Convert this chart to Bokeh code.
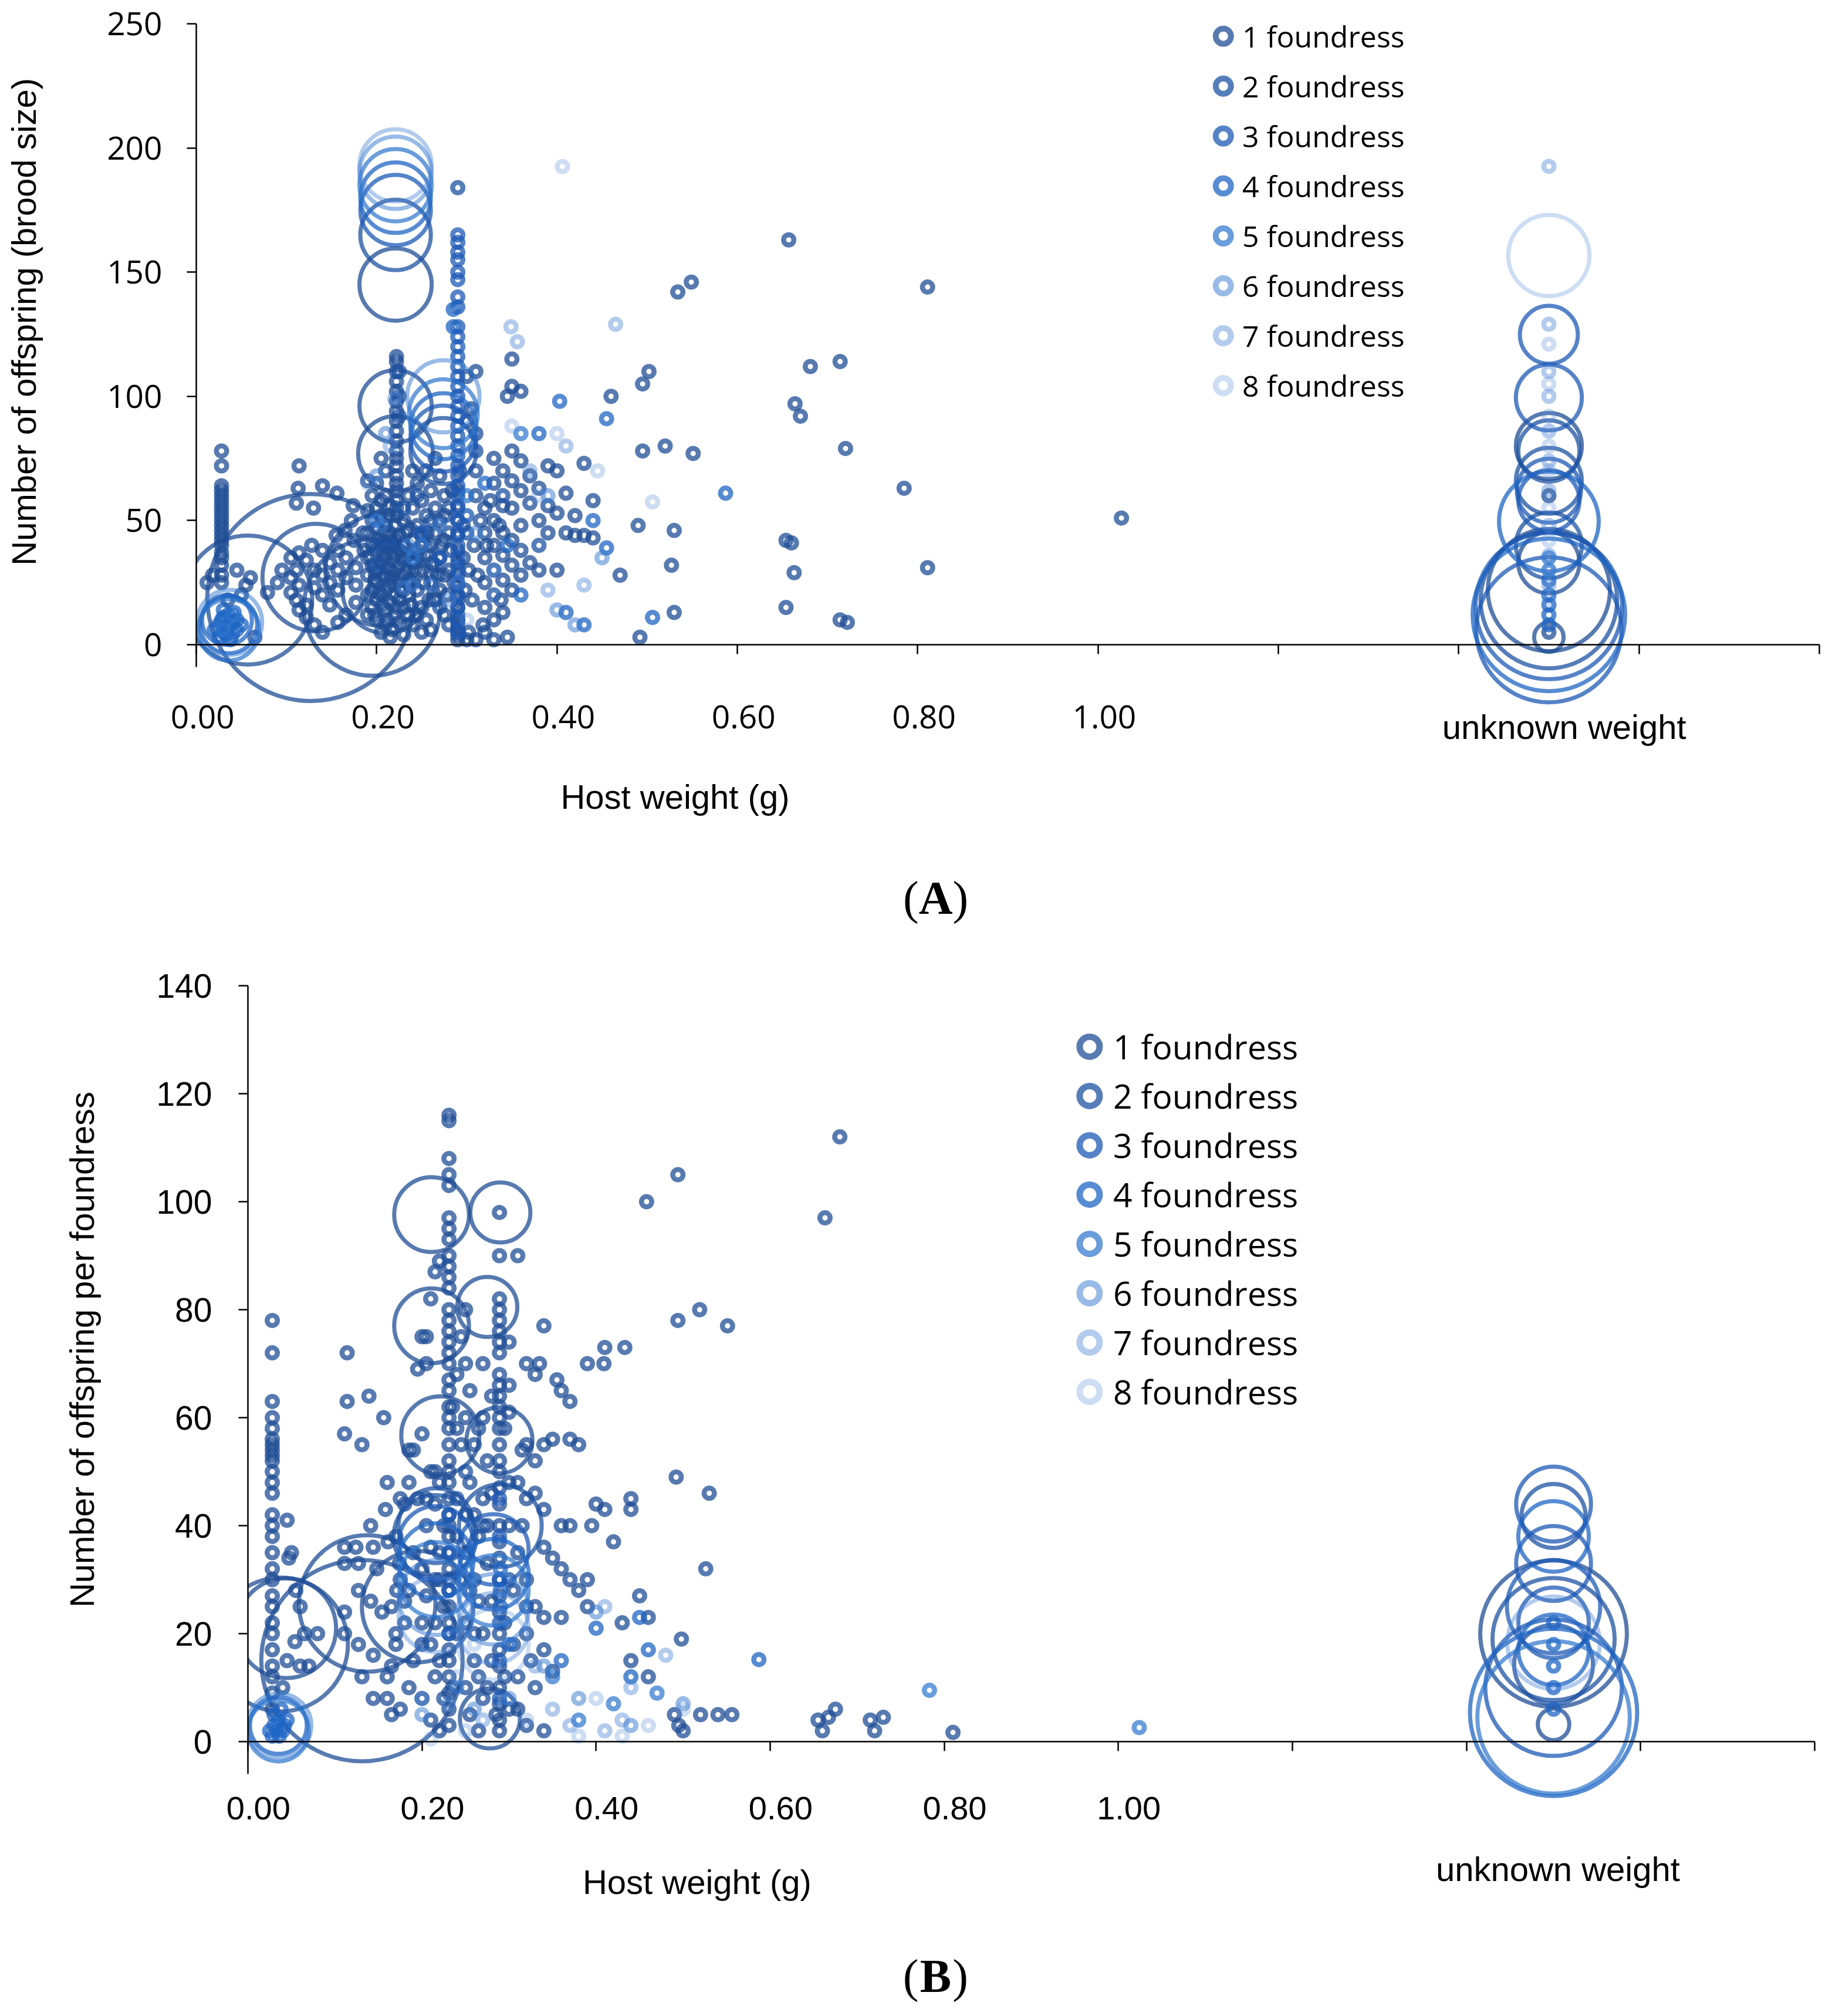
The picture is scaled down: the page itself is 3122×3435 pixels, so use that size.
import math
from bokeh.plotting import figure
from bokeh.models import ColumnDataSource, FixedTicker, Label, CustomJSTickFormatter
from bokeh.layouts import column
from bokeh.embed import file_html
from bokeh.resources import INLINE
from bokeh.core.properties import value

# ---------------- shared categories / ticks ----------------
SERIES = ["1 foundress", "2 foundress", "3 foundress", "4 foundress",
          "5 foundress", "6 foundress", "7 foundress", "8 foundress"]
COLORS = ["#1f4e96", "#1c51a1", "#1e5ab5", "#1f65c4", "#2b73cc", "#3a7bd0", "#4a84d4", "#5b8fd8"]
ALPHAS = [0.75, 0.75, 0.75, 0.75, 0.70, 0.52, 0.42, 0.30]

X_TICKS = [0.0, 0.2, 0.4, 0.6, 0.8, 1.0, 1.2, 1.4, 1.6, 1.8]
X_TICK_LABELS = ["0.00", "0.20", "0.40", "0.60", "0.80", "1.00"]
UNKNOWN_X = 1.5
UNKNOWN_LABEL = "unknown weight"
X_TITLE = "Host weight (g)"

A_Y_TICKS = [0, 50, 100, 150, 200, 250]
A_Y_TITLE = "Number of offspring (brood size)"
B_Y_TICKS = [0, 20, 40, 60, 80, 100, 120, 140]
B_Y_TITLE = "Number of offspring per foundress"

# ---------------- Panel A data: (host weight, brood size) ----------------
A1 = [
    (0.028, 78), (0.028, 72), (0.028, 64), (0.028, 62), (0.028, 60), (0.028, 58), (0.028, 56), (0.028, 54),
    (0.028, 52), (0.028, 50), (0.028, 48), (0.028, 46), (0.028, 44), (0.028, 42), (0.028, 40), (0.028, 37),
    (0.028, 35), (0.028, 32), (0.028, 28), (0.028, 25), (0.012, 25), (0.018, 28), (0.045, 30), (0.055, 24),
    (0.060, 27), (0.035, 18), (0.079, 21), (0.065, 3), (0.050, 20),
    (0.114, 72), (0.113, 63), (0.140, 64), (0.111, 57), (0.130, 55), (0.156, 61), (0.174, 56), (0.105, 35),
    (0.114, 37), (0.122, 34), (0.111, 30), (0.105, 27), (0.114, 24), (0.105, 21), (0.111, 18), (0.114, 14),
    (0.122, 11), (0.131, 30), (0.131, 23), (0.140, 28), (0.140, 20), (0.148, 33), (0.148, 25), (0.148, 16),
    (0.157, 38), (0.157, 30), (0.157, 22), (0.157, 9), (0.166, 35), (0.166, 27), (0.166, 12), (0.177, 31),
    (0.177, 24), (0.177, 17), (0.131, 8), (0.140, 5), (0.122, 16), (0.175, 42), (0.185, 45), (0.172, 50),
    (0.190, 54), (0.186, 38), (0.190, 20), (0.190, 12), (0.095, 30), (0.090, 25), (0.128, 40), (0.140, 38),
    (0.165, 46), (0.155, 44),
    (0.222, 116), (0.222, 114), (0.222, 110), (0.222, 106), (0.222, 102), (0.222, 98), (0.222, 94),
    (0.222, 90), (0.222, 86), (0.222, 82), (0.222, 78), (0.222, 75), (0.222, 72), (0.222, 68), (0.222, 65),
    (0.222, 62), (0.222, 58), (0.222, 55), (0.222, 52),
    (0.205, 75), (0.210, 70), (0.200, 65), (0.195, 60), (0.205, 58), (0.190, 66),
    (0.190, 45), (0.190, 35), (0.190, 28), (0.195, 50), (0.195, 40), (0.195, 22), (0.195, 15), (0.200, 55),
    (0.200, 47), (0.200, 38), (0.200, 30), (0.200, 25), (0.200, 18), (0.200, 10), (0.205, 52), (0.205, 42),
    (0.205, 33), (0.205, 27), (0.205, 20), (0.205, 5), (0.210, 60), (0.210, 48), (0.210, 40), (0.210, 35),
    (0.210, 28), (0.210, 22), (0.210, 14), (0.210, 8), (0.215, 56), (0.215, 45), (0.215, 37), (0.215, 30),
    (0.215, 24), (0.215, 17), (0.215, 3), (0.220, 48), (0.220, 42), (0.220, 36), (0.220, 30), (0.220, 25),
    (0.220, 20), (0.220, 12), (0.225, 44), (0.225, 38), (0.225, 32), (0.225, 26), (0.225, 18), (0.225, 9),
    (0.230, 50), (0.230, 40), (0.230, 34), (0.230, 28), (0.230, 22), (0.230, 15), (0.230, 4), (0.235, 60),
    (0.235, 46), (0.235, 36), (0.235, 30), (0.235, 20), (0.235, 12), (0.240, 70), (0.240, 55), (0.240, 42),
    (0.240, 33), (0.240, 25), (0.240, 8), (0.245, 65), (0.245, 48), (0.245, 38), (0.245, 22), (0.250, 58),
    (0.250, 44), (0.250, 30), (0.250, 15), (0.250, 5), (0.255, 70), (0.255, 52), (0.255, 36), (0.255, 10),
    (0.260, 62), (0.260, 40), (0.260, 25), (0.260, 6), (0.265, 75), (0.265, 55), (0.265, 45), (0.265, 32),
    (0.265, 18), (0.270, 68), (0.270, 50), (0.270, 35), (0.270, 22), (0.275, 60), (0.275, 42), (0.275, 28),
    (0.275, 12), (0.280, 55), (0.280, 45), (0.280, 30), (0.280, 8),
    (0.195, 32), (0.198, 26), (0.202, 43), (0.207, 36), (0.212, 31), (0.217, 27), (0.218, 40), (0.213, 52),
    (0.208, 45), (0.203, 21), (0.198, 12), (0.207, 16), (0.212, 10), (0.217, 6), (0.222, 15), (0.227, 22),
    (0.228, 35), (0.232, 45), (0.236, 26), (0.238, 16), (0.242, 30), (0.244, 12), (0.248, 36), (0.252, 25),
    (0.256, 45), (0.258, 18), (0.262, 33), (0.268, 28), (0.272, 40), (0.276, 52), (0.278, 20), (0.282, 38),
    (0.284, 62), (0.286, 25), (0.296, 35), (0.298, 22), (0.302, 30), (0.306, 18), (0.308, 40), (0.312, 28),
    (0.315, 50), (0.318, 8), (0.322, 40), (0.326, 58), (0.336, 48), (0.338, 18), (0.300, 2), (0.302, 5),
    (0.296, 48), (0.292, 70),
    (0.290, 2), (0.290, 4), (0.290, 6), (0.290, 8), (0.290, 10), (0.290, 12), (0.290, 15), (0.290, 18),
    (0.290, 20), (0.290, 24), (0.290, 28), (0.290, 33), (0.290, 38), (0.290, 44), (0.290, 50), (0.290, 56),
    (0.290, 62),
    (0.300, 90), (0.310, 85), (0.310, 70), (0.310, 60), (0.320, 55), (0.320, 45), (0.320, 35), (0.320, 25),
    (0.320, 15), (0.330, 75), (0.330, 65), (0.330, 50), (0.330, 40), (0.330, 30), (0.330, 20), (0.330, 10),
    (0.340, 70), (0.340, 56), (0.340, 45), (0.340, 36), (0.340, 26), (0.340, 13), (0.345, 3), (0.350, 115),
    (0.350, 104), (0.350, 78), (0.350, 66), (0.350, 55), (0.350, 42), (0.350, 32), (0.350, 22), (0.360, 102),
    (0.360, 74), (0.360, 62), (0.360, 48), (0.360, 38), (0.360, 28), (0.370, 68), (0.370, 57), (0.370, 33),
    (0.380, 63), (0.380, 50), (0.380, 30), (0.390, 72), (0.390, 56), (0.390, 45), (0.400, 70), (0.400, 53),
    (0.400, 30), (0.410, 61), (0.410, 45), (0.420, 52), (0.420, 44), (0.430, 73), (0.440, 58), (0.440, 43),
    (0.300, 108), (0.310, 110), (0.305, 95), (0.345, 100), (0.320, 5), (0.330, 2), (0.310, 2),
    (0.657, 163), (0.549, 146), (0.534, 142), (0.811, 144), (0.714, 114), (0.681, 112), (0.502, 110),
    (0.495, 105), (0.664, 97), (0.670, 92), (0.460, 100), (0.720, 79), (0.495, 78), (0.520, 80), (0.551, 77),
    (0.785, 63), (1.026, 51), (0.490, 48), (0.530, 46), (0.654, 42), (0.660, 41), (0.470, 28), (0.527, 32),
    (0.663, 29), (0.811, 31), (0.654, 15), (0.530, 13), (0.714, 10), (0.722, 9), (0.492, 3), (0.430, 44),
    (1.5, 5), (1.5, 60),
]
A1_BIG = [(0.057, 18, 134), (0.127, 19, 345), (0.133, 27, 93), (0.195, 15, 150), (0.205, 30, 100),
          (0.210, 22, 60), (0.221, 145, 42), (0.221, 96, 42), (0.221, 77, 45),
          (1.5, 80, 35), (1.5, 33, 30), (1.5, 22, 120), (1.5, 3, 7)]
A2 = [(0.290, 184), (0.250, 40), (0.200, 32), (0.230, 55), (0.245, 60), (0.310, 78), (0.270, 15), (0.215, 40),
      (0.260, 50), (0.300, 45), (0.235, 25), (0.200, 40), (0.340, 60), (0.380, 40), (0.225, 110), (0.225, 100),
      (0.225, 92)]
A2_BIG = [(0.221, 165, 40), (0.274, 78, 35), (1.5, 78, 30), (1.5, 66, 35), (1.5, 40, 35), (1.5, 18, 150)]
A3 = [(0.290, 165), (0.290, 162), (0.290, 158), (0.290, 155), (0.290, 150), (0.290, 147), (0.290, 140),
      (0.290, 136), (0.290, 128), (0.290, 124), (0.290, 120), (0.290, 116), (0.290, 112), (0.290, 108),
      (0.290, 104), (0.290, 100), (0.290, 96), (0.290, 92), (0.290, 88), (0.290, 84), (0.290, 80), (0.290, 76),
      (0.290, 72), (0.290, 68), (0.290, 64), (0.290, 60), (0.290, 55), (0.290, 50), (0.290, 45), (0.290, 40),
      (0.290, 35), (0.290, 30), (0.290, 25), (0.290, 20), (0.290, 15), (0.290, 10), (0.290, 5),
      (0.300, 52), (0.270, 35), (0.250, 45)]
A3_BIG = [(0.221, 175, 40), (0.274, 83, 35), (1.5, 124.8, 27), (1.5, 99.5, 35), (1.5, 62, 33), (1.5, 58, 30),
          (1.5, 15.6, 173), (1.5, 6, 170)]
A4 = [(0.025, 3), (0.030, 5), (0.035, 7), (0.040, 9), (0.030, 11), (0.025, 8), (0.040, 4), (0.045, 6),
      (0.035, 12), (0.030, 14), (0.020, 6), (0.045, 10), (0.038, 2), (0.028, 10), (0.042, 13), (0.033, 4),
      (0.050, 8), (0.403, 98), (0.455, 91), (0.587, 61), (0.455, 39), (0.506, 11), (0.410, 13), (0.430, 8),
      (0.440, 50), (0.380, 85), (0.320, 65), (0.345, 40), (0.360, 20), (0.285, 128), (0.285, 135),
      (1.5, 8), (1.5, 12), (1.5, 16), (1.5, 20), (1.5, 26)]
A4_BIG = [(0.036, 8, 26), (0.034, 10, 20), (0.221, 180, 40), (0.274, 88, 35), (1.5, 49.6, 80), (1.5, 12, 187)]
A5 = [(0.360, 85), (0.300, 60), (0.200, 50), (0.240, 35), (0.030, 6), (0.040, 12), (1.5, 30), (1.5, 35)]
A5_BIG = [(0.036, 6, 30), (0.221, 185, 42), (0.274, 93, 38)]
A6 = [(0.420, 8), (0.450, 35), (0.310, 45), (0.250, 40), (0.210, 85), (0.200, 68), (0.270, 48), (0.235, 40),
      (0.390, 60), (0.400, 14)]
A6_BIG = [(0.037, 9, 34), (0.221, 190, 42), (0.274, 100, 42)]
A7 = [(0.349, 128), (0.356, 122), (0.465, 129), (0.410, 80), (0.370, 70), (0.390, 22), (0.430, 24), (0.220, 99),
      (0.215, 80), (0.230, 23), (0.240, 24), (0.290, 25), (0.280, 18), (0.205, 48), (0.260, 24), (0.330, 30),
      (1.5, 192.6), (1.5, 129), (1.5, 110), (1.5, 100), (1.5, 86), (1.5, 74), (1.5, 62), (1.5, 48), (1.5, 36),
      (1.5, 24)]
A7_BIG = [(0.221, 193, 42)]
A8 = [(0.406, 192.5), (0.506, 57.5), (0.400, 85), (0.380, 60), (0.190, 65), (0.330, 20), (0.300, 10),
      (0.350, 88), (0.445, 70), (1.5, 121), (1.5, 105), (1.5, 92), (1.5, 80), (1.5, 70), (1.5, 55), (1.5, 42),
      (1.5, 30), (1.5, 18)]
A8_BIG = [(1.5, 156.7, 53)]

# ---------------- Panel B data: (host weight, offspring per foundress) ----------------
B1 = [
    (0.028, 78), (0.028, 72), (0.028, 63), (0.028, 60), (0.028, 58), (0.028, 56), (0.028, 55), (0.028, 54),
    (0.028, 53), (0.028, 52), (0.028, 50), (0.028, 48), (0.028, 46), (0.028, 42), (0.028, 40), (0.028, 38),
    (0.028, 35), (0.028, 32), (0.028, 30), (0.028, 27), (0.028, 25), (0.028, 22), (0.028, 20), (0.028, 17),
    (0.028, 14), (0.028, 12), (0.028, 9), (0.028, 6),
    (0.045, 41), (0.050, 35), (0.060, 25), (0.065, 20), (0.055, 28), (0.070, 14), (0.045, 15), (0.040, 10),
    (0.060, 14), (0.054, 18.5), (0.080, 20), (0.047, 34),
    (0.114, 72), (0.139, 64), (0.114, 63), (0.156, 60), (0.111, 57), (0.131, 55), (0.111, 36), (0.124, 36),
    (0.144, 36), (0.161, 37), (0.141, 40), (0.158, 43), (0.111, 33), (0.127, 33), (0.148, 32), (0.174, 33),
    (0.111, 24), (0.127, 28), (0.141, 26), (0.154, 24), (0.171, 28), (0.111, 20), (0.127, 18), (0.144, 16),
    (0.144, 8), (0.131, 12), (0.180, 26), (0.170, 20), (0.165, 14), (0.160, 8), (0.175, 6), (0.160, 48),
    (0.175, 45), (0.185, 54),
    (0.231, 116), (0.231, 115), (0.231, 108), (0.231, 105), (0.231, 103), (0.231, 97), (0.231, 95), (0.231, 93),
    (0.231, 90), (0.231, 88), (0.231, 86), (0.231, 84), (0.231, 80), (0.231, 78), (0.231, 76), (0.231, 74),
    (0.231, 72), (0.231, 70), (0.231, 67), (0.231, 65), (0.231, 62), (0.231, 60), (0.231, 58), (0.231, 55),
    (0.231, 52), (0.231, 50), (0.231, 48), (0.231, 45), (0.231, 42), (0.231, 40), (0.231, 38), (0.231, 35),
    (0.231, 32), (0.231, 30), (0.231, 28), (0.231, 25), (0.231, 22), (0.231, 20), (0.231, 17), (0.231, 15),
    (0.231, 12), (0.231, 9), (0.231, 6), (0.231, 3),
    (0.200, 75), (0.205, 75), (0.195, 69), (0.205, 70), (0.210, 82), (0.215, 87), (0.220, 89), (0.200, 57),
    (0.190, 54), (0.185, 48), (0.180, 44), (0.195, 45), (0.215, 50),
    (0.205, 45), (0.210, 50), (0.215, 44), (0.220, 48), (0.225, 40), (0.220, 30), (0.225, 25), (0.215, 22),
    (0.220, 15), (0.225, 8), (0.235, 10), (0.240, 20), (0.245, 30), (0.240, 38), (0.245, 55), (0.235, 62),
    (0.240, 58), (0.250, 42), (0.255, 28), (0.260, 20), (0.265, 12), (0.270, 8), (0.275, 40), (0.280, 46),
    (0.280, 26), (0.280, 15), (0.285, 5), (0.295, 12), (0.295, 22), (0.300, 48), (0.305, 28), (0.305, 18),
    (0.310, 6), (0.315, 40), (0.320, 45), (0.325, 15), (0.295, 58), (0.300, 66), (0.280, 64), (0.265, 58),
    (0.255, 65), (0.245, 75), (0.250, 80),
    (0.289, 98), (0.289, 90), (0.289, 82), (0.289, 80), (0.289, 78), (0.289, 76), (0.289, 74), (0.289, 72),
    (0.289, 68), (0.289, 66), (0.289, 64), (0.289, 62), (0.289, 60), (0.289, 58), (0.289, 55), (0.289, 52),
    (0.289, 50), (0.289, 47), (0.289, 44), (0.289, 40), (0.289, 37), (0.289, 34), (0.289, 30), (0.289, 27),
    (0.289, 24), (0.289, 20), (0.289, 17), (0.289, 14), (0.289, 10), (0.289, 7), (0.289, 4), (0.289, 2),
    (0.310, 90), (0.300, 74), (0.270, 70), (0.250, 70), (0.240, 68), (0.340, 77), (0.320, 70), (0.335, 70),
    (0.330, 68), (0.355, 67), (0.360, 65), (0.370, 63), (0.390, 70), (0.410, 73), (0.300, 61), (0.320, 55),
    (0.340, 55), (0.350, 56), (0.370, 56), (0.380, 55), (0.330, 52), (0.315, 54), (0.310, 48), (0.330, 46),
    (0.340, 43), (0.360, 40), (0.370, 40), (0.350, 34), (0.340, 36), (0.360, 32), (0.370, 30), (0.380, 28),
    (0.390, 25), (0.340, 23), (0.360, 23), (0.300, 40), (0.310, 35), (0.320, 30), (0.330, 25), (0.320, 20),
    (0.340, 17), (0.350, 13), (0.330, 10), (0.310, 12), (0.300, 6), (0.320, 3), (0.340, 2), (0.400, 44),
    (0.410, 43), (0.395, 40), (0.420, 37), (0.390, 30), (0.440, 45), (0.440, 43), (0.250, 60), (0.260, 55),
    (0.255, 48), (0.260, 42), (0.265, 38), (0.250, 35), (0.260, 30), (0.265, 26), (0.250, 22), (0.260, 15),
    (0.250, 10), (0.255, 5), (0.265, 2), (0.270, 60), (0.275, 52), (0.270, 45), (0.275, 33), (0.270, 20),
    (0.275, 10), (0.205, 40), (0.210, 36), (0.200, 32), (0.215, 30), (0.205, 27), (0.200, 22), (0.210, 18),
    (0.215, 12), (0.200, 8), (0.210, 4), (0.220, 2), (0.190, 35), (0.185, 28), (0.180, 22), (0.190, 15),
    (0.185, 10), (0.170, 38), (0.175, 30), (0.165, 25), (0.170, 18), (0.160, 12), (0.165, 5),
    (0.680, 112), (0.663, 97), (0.494, 105), (0.458, 100), (0.494, 78), (0.519, 80), (0.551, 77), (0.433, 73),
    (0.409, 70), (0.492, 49), (0.530, 46), (0.526, 32), (0.498, 19), (0.460, 23), (0.810, 1.7), (0.655, 4),
    (0.660, 2), (0.667, 4.5), (0.675, 6), (0.715, 4), (0.720, 2), (0.730, 4.5), (0.520, 5), (0.540, 5),
    (0.556, 5), (0.490, 5), (0.500, 2), (0.495, 3), (0.440, 15), (0.460, 12), (0.430, 22), (0.450, 27),
]
B1_BIG = [(0.211, 97.6, 45), (0.290, 98, 29), (0.211, 77, 45), (0.275, 80.5, 29), (0.221, 56.7, 49),
          (0.289, 55.8, 35), (0.131, 15, 326), (0.137, 25.6, 150), (0.044, 21, 80), (0.038, 18, 144),
          (0.195, 25, 100), (0.278, 4.3, 29), (1.5, 20, 173), (1.5, 3.2, 8)]
B2 = [(0.240, 45), (0.250, 50), (0.220, 35), (0.300, 30), (0.270, 40), (0.320, 25), (0.200, 18)]
B2_BIG = [(0.216, 40, 45), (0.215, 38, 55), (0.290, 40, 55), (1.5, 41.8, 33), (1.5, 14.3, 50), (1.5, 19, 120)]
B3 = [(0.289, 45), (0.289, 38), (0.289, 30), (0.289, 22), (0.289, 15), (0.289, 8), (0.231, 42), (0.231, 35),
      (0.231, 28), (0.231, 20)]
B3_BIG = [(0.216, 36.7, 45), (0.282, 35.6, 40), (1.5, 44, 45), (1.5, 33, 45), (1.5, 22, 40), (1.5, 25, 70),
          (1.5, 10, 150)]
B4 = [(0.025, 2), (0.030, 3), (0.035, 4), (0.040, 2), (0.030, 5), (0.038, 6), (0.028, 1), (0.042, 3),
      (0.033, 2), (0.036, 1), (0.045, 4), (0.587, 15.2), (0.450, 23), (0.460, 17), (0.440, 12), (0.400, 21),
      (0.360, 15), (0.300, 18), (0.290, 25), (0.290, 28), (0.290, 32), (1.5, 6), (1.5, 10), (1.5, 14),
      (1.5, 18), (1.5, 22)]
B4_BIG = [(0.035, 3, 26), (0.216, 33.5, 45), (0.282, 31, 40), (1.5, 38, 40), (1.5, 17, 40), (1.5, 5.4, 225)]
B5 = [(0.783, 9.5), (1.024, 2.6), (0.420, 7), (0.470, 9), (0.380, 4), (0.350, 12)]
B5_BIG = [(0.035, 2, 30), (0.216, 30, 45), (0.282, 28, 40), (1.5, 4.5, 187)]
B6 = [(0.500, 7), (0.400, 24), (0.240, 10), (0.260, 6), (0.300, 8), (0.340, 14), (0.380, 8), (0.440, 3),
      (0.200, 5)]
B6_BIG = [(0.036, 3, 33), (0.216, 26.7, 45), (0.282, 24.5, 40)]
B7 = [(0.410, 25), (0.440, 10), (0.370, 3), (0.270, 4), (0.230, 7), (0.200, 8), (0.330, 14), (0.480, 16),
      (0.350, 6), (0.410, 2), (0.430, 4)]
B7_BIG = [(0.216, 23.5, 45), (0.282, 21, 40), (1.5, 18.3, 69)]
B8 = [(0.210, 0.5), (0.250, 2), (0.320, 4), (0.400, 8), (0.460, 3), (0.500, 6), (0.380, 1), (0.430, 1),
      (0.240, 12), (0.260, 18)]
B8_BIG = [(0.282, 18, 40)]

A_SMALL = [A1, A2, A3, A4, A5, A6, A7, A8]
A_BIG = [A1_BIG, A2_BIG, A3_BIG, A4_BIG, A5_BIG, A6_BIG, A7_BIG, A8_BIG]
B_SMALL = [B1, B2, B3, B4, B5, B6, B7, B8]
B_BIG = [B1_BIG, B2_BIG, B3_BIG, B4_BIG, B5_BIG, B6_BIG, B7_BIG, B8_BIG]

# ---------------- styling ----------------
SMALL_SIZE = 17.5        # screen diameter of a bubble of value 1
SMALL_RING = 8.5
BIG_RING = 7.0
TITLE_FONT = "Liberation Sans"
FONT_SIZE_TITLE = "58px"


def make_panel(cfg, smalls, bigs):
    W, H = cfg["width"], cfg["height"]
    yt = cfg["y_ticks"]
    # pixel layout of the axes inside the canvas -> data ranges
    sx = (cfg["x_last_px"] - cfg["x_zero_px"]) / X_TICKS[-1]
    sy = (cfg["y_zero_px"] - cfg["y_top_px"]) / yt[-1]
    x_start = -cfg["x_zero_px"] / sx
    x_end = X_TICKS[-1] + (W - cfg["x_last_px"]) / sx
    y_end = yt[-1] + cfg["y_top_px"] / sy
    y_start = -(H - cfg["y_zero_px"]) / sy

    p = figure(width=W, height=H, x_range=(x_start, x_end), y_range=(y_start, y_end),
               min_border_left=0, min_border_right=0, min_border_top=0, min_border_bottom=0,
               output_backend="svg", toolbar_location=None, tools="")
    p.outline_line_color = None
    p.xgrid.visible = False
    p.ygrid.visible = False
    p.background_fill_color = "white"
    p.border_fill_color = "white"

    # y axis at x = 0
    ya = p.yaxis[0]
    ya.fixed_location = 0
    ya.ticker = FixedTicker(ticks=yt)
    ya.bounds = (cfg["y_axis_low"], yt[-1])
    ya.axis_line_width = 2.5
    ya.axis_line_color = "black"
    ya.major_tick_line_width = 2.5
    ya.major_tick_line_color = "black"
    ya.major_tick_out = 16
    ya.major_tick_in = 0
    ya.minor_tick_out = 0
    ya.minor_tick_in = 0
    ya.major_label_standoff = cfg["y_label_standoff"]
    ya.major_label_text_font = cfg["tick_font"]
    ya.major_label_text_font_size = cfg["y_tick_size"]
    ya.major_label_text_color = "black"

    # x axis crossing at y = 0
    xa = p.xaxis[0]
    xa.fixed_location = 0
    xa.ticker = FixedTicker(ticks=X_TICKS)
    xa.bounds = (0, X_TICKS[-1])
    xa.formatter = CustomJSTickFormatter(code="return ''")
    xa.axis_line_width = 2.5
    xa.axis_line_color = "black"
    xa.major_tick_line_width = 2.5
    xa.major_tick_line_color = "black"
    xa.major_tick_out = 16
    xa.major_tick_in = 0
    xa.minor_tick_out = 0
    xa.minor_tick_in = 0

    # bubbles, drawn series by series (bubble area proportional to bubble value)
    for i in range(8):
        xs = [b[0] for b in bigs[i]] + [s[0] for s in smalls[i]]
        ys = [b[1] for b in bigs[i]] + [s[1] for s in smalls[i]]
        ns = [b[2] for b in bigs[i]] + [1] * len(smalls[i])
        sizes = [SMALL_SIZE * math.sqrt(n) * (19.0 / SMALL_SIZE if n > 1 else 1.0) for n in ns]
        widths = [BIG_RING if n > 1 else SMALL_RING for n in ns]
        src = ColumnDataSource(dict(x=xs, y=ys, size=sizes, lw=widths))
        p.scatter("x", "y", size="size", line_width="lw", source=src, marker="circle", fill_color=None,
                  line_color=COLORS[i], line_alpha=ALPHAS[i])

    # plot area is clipped at the value axis: white out what lies left of x = 0
    p.quad(left=[x_start], right=[0], bottom=[y_start], top=[y_end],
           fill_color="white", line_color=None)

    # legend (inside the plot area)
    lx, tx, ly0, dy = cfg["legend"]
    lys = [ly0 - k * dy for k in range(8)]
    p.scatter([lx] * 8, lys, size=cfg["legend_marker"], marker="circle", fill_color=None,
              line_color=COLORS, line_alpha=ALPHAS, line_width=cfg["legend_ring"])
    p.text([tx] * 8, lys, text=SERIES, text_font=value("Open Sans"),
           text_font_size=value(cfg["legend_font"]), text_baseline="middle", text_align="left",
           text_color="black")

    # x tick labels, below the axis
    n = len(X_TICK_LABELS)
    p.text([t + cfg["xlab_dx"] for t in X_TICKS[:n]], [cfg["xlab_y"]] * n, text=X_TICK_LABELS,
           text_font=value(cfg["tick_font"]), text_font_size=value(cfg["x_tick_size"]),
           text_align="center", text_baseline="middle", text_color="black")

    ux, uy = cfg["unknown_pos"]
    p.add_layout(Label(x=ux, y=uy, text=UNKNOWN_LABEL, text_align="center", text_baseline="middle",
                       text_font=TITLE_FONT, text_font_size=FONT_SIZE_TITLE, text_color="black"))
    hx, hy = cfg["xtitle_pos"]
    p.add_layout(Label(x=hx, y=hy, text=X_TITLE, text_align="center", text_baseline="middle",
                       text_font=TITLE_FONT, text_font_size=FONT_SIZE_TITLE, text_color="black"))
    vx, vy = cfg["ytitle_pos"]
    p.add_layout(Label(x=vx, y=vy, text=cfg["y_title"], angle=math.pi / 2, text_align="center",
                       text_baseline="middle", text_font=TITLE_FONT, text_font_size=FONT_SIZE_TITLE,
                       text_color="black"))
    # panel letter: bold letter between regular parentheses
    px_, py_ = cfg["panel_pos"]
    half = 29
    p.add_layout(Label(x=px_, y=py_, text=cfg["panel"], text_align="center", text_baseline="middle",
                       text_font="Liberation Serif", text_font_style="bold", text_font_size="80px",
                       text_color="black"))
    p.add_layout(Label(x=px_, y=py_, x_offset=-half, text="(", text_align="right", text_baseline="middle",
                       text_font="Liberation Serif", text_font_size="80px", text_color="black"))
    p.add_layout(Label(x=px_, y=py_, x_offset=half, text=")", text_align="left", text_baseline="middle",
                       text_font="Liberation Serif", text_font_size="80px", text_color="black"))
    return p


CFG_A = dict(width=3106, height=1620, x_zero_px=334, x_last_px=3100, y_top_px=40, y_zero_px=1098,
             y_ticks=A_Y_TICKS, y_axis_low=-9,
             y_label_standoff=42, tick_font="Open Sans", y_tick_size="55px", x_tick_size="55px",
             legend=(1.139, 1.160, 245, 20.1), legend_marker=26, legend_ring=10, legend_font="50px",
             xlab_dx=0.007, xlab_y=-29, unknown_pos=(1.517, -33), xtitle_pos=(0.531, -61.3),
             ytitle_pos=(-0.191, 130), y_title=A_Y_TITLE, panel="A", panel_pos=(0.82, -102))

CFG_B = dict(width=3106, height=1795, x_zero_px=422, x_last_px=3092, y_top_px=59, y_zero_px=1347,
             y_ticks=B_Y_TICKS, y_axis_low=-6,
             y_label_standoff=45, tick_font="Liberation Sans", y_tick_size="57px", x_tick_size="56px",
             legend=(0.967, 0.994, 128.7, 9.13), legend_marker=34, legend_ring=11, legend_font="57px",
             xlab_dx=0.012, xlab_y=-12.3, unknown_pos=(1.505, -23.6), xtitle_pos=(0.516, -26),
             ytitle_pos=(-0.191, 72.6), y_title=B_Y_TITLE, panel="B", panel_pos=(0.79, -43.4))

pA = make_panel(CFG_A, A_SMALL, A_BIG)
pB = make_panel(CFG_B, B_SMALL, B_BIG)

layout = column(pA, pB, spacing=0)
open("out.html", "w").write(file_html(layout, INLINE))
